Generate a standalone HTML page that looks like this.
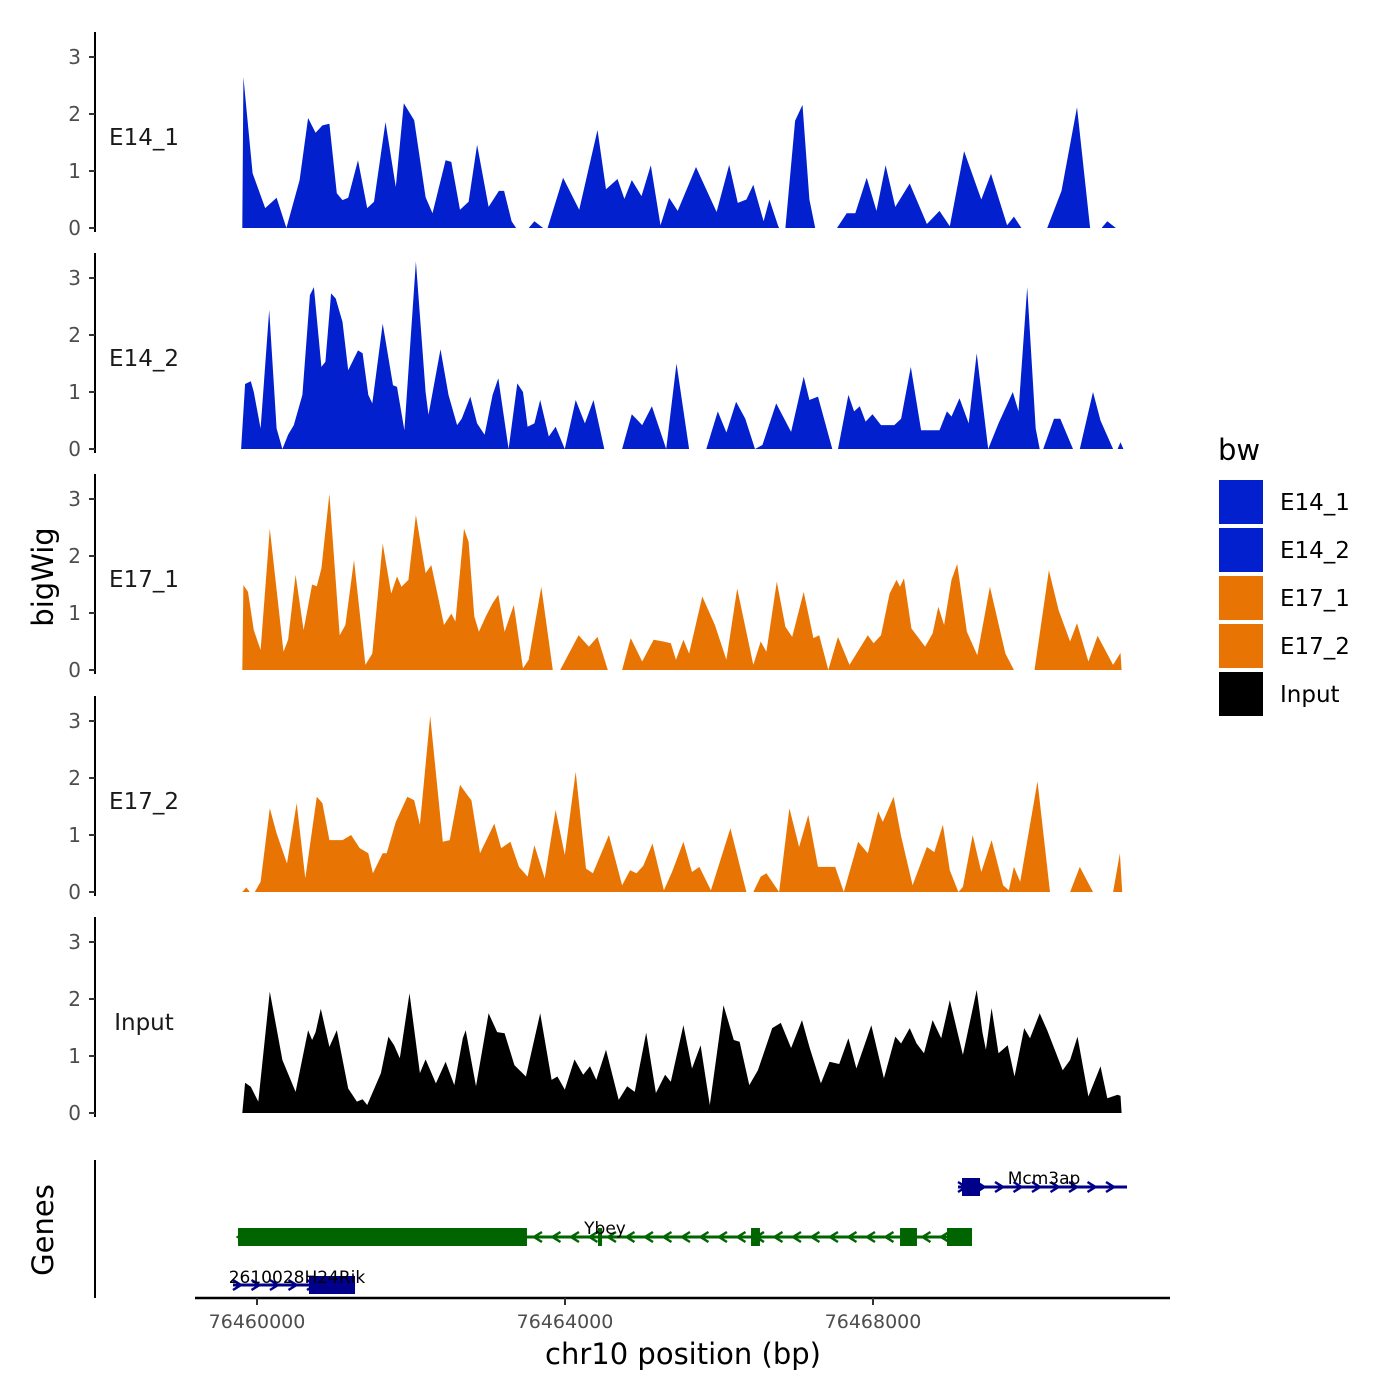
<!DOCTYPE html>
<html><head><meta charset="utf-8"><style>
html,body{margin:0;padding:0;background:#fff;}
svg{display:block;font-family:"DejaVu Sans","Liberation Sans",sans-serif;}
</style></head><body>
<svg id="chart" width="1400" height="1400" viewBox="0 0 1400 1400" xmlns="http://www.w3.org/2000/svg">
<rect x="0" y="0" width="1400" height="1400" fill="#fff"/>
<g id="panels"></g>
<g id="genes"></g>
<g id="xaxis"></g>
<text x="0" y="0" transform="translate(53,577) rotate(-90)" text-anchor="middle" font-size="29" fill="#000">bigWig</text>
<text x="0" y="0" transform="translate(53,1230) rotate(-90)" text-anchor="middle" font-size="29" fill="#000">Genes</text>
<text x="683" y="1364" text-anchor="middle" font-size="29" fill="#000">chr10 position (bp)</text>
<g>
<text x="1218" y="460" font-size="29" fill="#000">bw</text>
<g id="legend-entries"></g>
</g>
</svg>
<script>
// positions are bp relative to chr10:76,460,000
const regionStart = 76460000;
const xTicks = [0, 4000, 8000];
const xTickLabels = ["76460000", "76464000", "76468000"];
const yTicks = [0, 1, 2, 3];
const sampleNames = ["E14_1", "E14_2", "E17_1", "E17_2", "Input"];
const sampleColors = ["#0320CF", "#0320CF", "#E87503", "#E87503", "#000000"];

const e14_1_pos = [-191,-176,-57,106,255,382,553,664,761,850,940,1036,1111,1185,1312,1431,1520,1669,1803,1907,2041,2190,2279,2450,2524,2636,2748,2859,3008,3142,3209,3306,3365,3529,3603,3715,3774,3975,4184,4422,4533,4682,4771,4868,4994,5114,5240,5352,5463,5701,5969,6133,6244,6356,6445,6579,6654,6765,6780,6862,6988,7085,7174,7249,7532,7658,7770,7918,8045,8164,8290,8476,8700,8863,8997,9183,9332,9406,9533,9741,9830,9927,10262,10448,10649,10820,10969,11043,11155];
const e14_1_val = [0,2.65,0.96,0.35,0.53,0,0.84,1.93,1.67,1.8,1.83,0.61,0.49,0.53,1.19,0.35,0.46,1.86,0.72,2.19,1.89,0.54,0.26,1.19,1.16,0.32,0.46,1.46,0.37,0.65,0.65,0.12,0,0,0.12,0,0,0.88,0.32,1.72,0.68,0.86,0.51,0.84,0.56,1.1,0.05,0.53,0.3,1.07,0.28,1.11,0.44,0.5,0.76,0.12,0.5,0.05,0,0,1.88,2.16,0.5,0,0,0.26,0.26,0.88,0.3,1.1,0.37,0.78,0.07,0.3,0.03,1.35,0.78,0.5,0.95,0.05,0.2,0,0,0.65,2.12,0,0,0.12,0];

const e14_2_pos = [-206,-154,-80,-42,47,158,255,330,404,478,590,687,739,836,888,962,1022,1111,1185,1312,1371,1446,1498,1632,1766,1818,1914,2063,2190,2227,2383,2487,2599,2658,2770,2859,2956,3060,3134,3268,3380,3454,3514,3603,3678,3789,3878,3998,4139,4258,4370,4511,4742,4868,5002,5128,5314,5448,5612,5835,5984,6096,6222,6341,6468,6564,6743,6936,7100,7174,7286,7472,7546,7680,7755,7829,7904,7993,8104,8276,8365,8491,8625,8863,8960,9020,9124,9243,9347,9496,9630,9816,9890,10002,10113,10165,10210,10351,10433,10597,10686,10857,10954,11118,11177,11214,11252];
const e14_2_val = [0,1.14,1.19,1.0,0.36,2.44,0.36,0,0.25,0.42,0.95,2.7,2.84,1.44,1.53,2.73,2.64,2.23,1.38,1.73,1.68,0.95,0.8,2.2,1.12,1.09,0.33,3.29,1.0,0.6,1.75,0.95,0.42,0.53,0.92,0.45,0.25,0.95,1.24,0,1.15,1.0,0.39,0.45,0.86,0.22,0.39,0,0.86,0.45,0.86,0,0,0.61,0.42,0.75,0,1.5,0,0,0.66,0.29,0.83,0.53,0,0.07,0.8,0.3,1.27,0.86,0.92,0,0,0.95,0.66,0.75,0.48,0.61,0.42,0.42,0.53,1.44,0.33,0.33,0.66,0.57,0.89,0.45,1.68,0,0.45,1.0,0.66,2.84,0.36,0,0,0.53,0.53,0,0,1.0,0.5,0,0,0.12,0];

const e17_1_pos = [-191,-176,-117,-42,47,166,344,404,501,605,716,776,836,940,1074,1148,1260,1408,1498,1632,1743,1818,1877,1966,2063,2190,2264,2338,2428,2524,2576,2688,2748,2822,2882,2971,3060,3134,3216,3335,3454,3529,3692,3841,3938,4050,4176,4310,4422,4556,4742,4853,5002,5151,5277,5374,5441,5538,5612,5783,5947,6096,6237,6445,6542,6616,6750,6862,6951,7100,7226,7301,7420,7546,7695,7933,8008,8104,8216,8305,8350,8402,8499,8677,8774,8848,8923,9020,9094,9220,9354,9518,9719,9830,10098,10284,10411,10560,10649,10798,10917,11118,11214,11229];
const e17_1_val = [0,1.49,1.37,0.7,0.35,2.48,0.32,0.53,1.67,0.7,1.5,1.47,1.78,3.09,0.61,0.79,1.93,0.09,0.29,2.22,1.34,1.64,1.46,1.58,2.72,1.7,1.84,1.37,0.79,0.99,0.85,2.48,2.25,0.94,0.67,0.94,1.17,1.32,0.67,1.14,0.03,0.18,1.46,0,0,0.29,0.61,0.41,0.58,0,0,0.56,0.15,0.53,0.5,0.47,0.18,0.53,0.29,1.29,0.79,0.18,1.43,0.09,0.5,0.32,1.55,0.76,0.58,1.37,0.56,0.61,0,0.58,0.09,0.61,0.47,0.61,1.34,1.58,1.46,1.61,0.73,0.41,0.64,1.11,0.79,1.58,1.86,0.67,0.26,1.46,0.29,0,0,1.75,1.05,0.5,0.82,0.15,0.6,0.09,0.3,0];

const e17_2_pos = [-191,-139,-94,-28,47,166,255,389,516,627,776,850,940,1111,1222,1334,1446,1505,1632,1684,1803,1952,2041,2115,2249,2413,2502,2636,2748,2785,2896,3082,3172,3291,3402,3514,3603,3737,3878,3998,4139,4273,4362,4570,4742,4846,4928,5017,5136,5285,5389,5538,5649,5746,5895,6148,6356,6445,6542,6616,6780,6914,7040,7160,7286,7509,7621,7807,7933,8067,8127,8268,8365,8514,8700,8796,8908,8997,9109,9168,9295,9406,9540,9689,9764,9830,9912,10039,10136,10299,10560,10686,10857,11118,11207,11237];
const e17_2_val = [0,0.08,0,0,0.18,1.47,1.03,0.5,1.56,0.24,1.67,1.56,0.91,0.91,1.0,0.77,0.68,0.33,0.68,0.68,1.23,1.67,1.61,1.18,3.09,0.88,0.91,1.88,1.67,1.61,0.68,1.2,0.77,0.88,0.44,0.27,0.82,0.24,1.44,0.65,2.11,0.41,0.33,1.0,0.12,0.38,0.33,0.46,0.85,0.03,0.35,0.88,0.35,0.44,0.03,1.12,0,0,0.27,0.33,0,1.47,0.79,1.35,0.44,0.44,0,0.88,0.68,1.41,1.23,1.67,0.98,0.12,0.79,0.7,1.18,0.38,0,0.09,1.0,0.35,0.91,0.12,0.03,0.44,0.18,1.18,1.94,0,0,0.44,0,0,0.68,0];

const input_pos = [-191,-154,-80,17,166,330,501,664,716,761,828,940,1036,1185,1297,1371,1431,1609,1706,1780,1855,1981,2115,2190,2324,2450,2562,2673,2710,2844,3008,3120,3216,3343,3492,3678,3826,3901,3998,4124,4236,4325,4407,4533,4697,4808,4905,5054,5180,5300,5374,5538,5649,5761,5880,6058,6192,6267,6393,6505,6691,6802,6936,7078,7174,7323,7435,7561,7680,7784,7978,8142,8290,8365,8476,8566,8662,8774,8886,8997,9168,9347,9421,9466,9540,9630,9749,9838,9964,10039,10165,10262,10463,10560,10656,10798,10954,11043,11177,11214,11229];
const input_val = [0,0.53,0.46,0.2,2.13,0.93,0.37,1.45,1.28,1.42,1.83,1.16,1.45,0.43,0.2,0.24,0.14,0.7,1.34,1.19,0.96,2.1,0.7,0.94,0.52,0.9,0.49,1.31,1.45,0.47,1.75,1.42,1.4,0.84,0.64,1.75,0.58,0.64,0.41,0.94,0.67,0.82,0.58,1.11,0.23,0.47,0.37,1.41,0.35,0.67,0.55,1.54,0.78,1.19,0.14,1.89,1.28,1.25,0.49,0.75,1.49,1.58,1.14,1.63,1.16,0.52,0.9,0.86,1.31,0.78,1.54,0.61,1.34,1.22,1.49,1.22,1.05,1.63,1.31,1.98,1.02,2.16,1.42,1.11,1.84,1.05,1.19,0.64,1.49,1.31,1.75,1.45,0.75,0.93,1.34,0.29,0.82,0.26,0.32,0.3,0];

// genes: [start, end] relative bp
const geneNames = ["Mcm3ap", "Ybey", "2610028H24Rik"];
const geneStrand = ["+", "-", "+"];
const mcm3apSpan = [9104, 11299];
const mcm3apExons = [[9156, 9390]];
const ybeySpan = [-247, 9286];
const ybeyExons = [[-247, 3506], [4429, 4481], [6416, 6532], [8351, 8571], [8961, 9286]];
const rikSpan = [-312, 1273];
const rikExons = [[675, 1273]];

const NS = "http://www.w3.org/2000/svg";
function xScale(bp) { return 257 + bp * 0.077; }
const panelBase = [228, 449, 670, 892, 1113];
function yScale(panel, v) { return panelBase[panel] - v * 57; }
function mk(tag, attrs, parent) {
  const el = document.createElementNS(NS, tag);
  for (const k in attrs) el.setAttribute(k, attrs[k]);
  parent.appendChild(el);
  return el;
}

const panelsG = document.getElementById("panels");
const allPos = [e14_1_pos, e14_2_pos, e17_1_pos, e17_2_pos, input_pos];
const allVal = [e14_1_val, e14_2_val, e17_1_val, e17_2_val, input_val];
sampleNames.forEach((name, p) => {
  const g = mk("g", {}, panelsG);
  
  
  const base = panelBase[p];
  const axis = mk("line", { x1: 95, x2: 95, y1: base - 196, y2: base + 4, stroke: "#000", "stroke-width": 2 }, g);
  
  
  yTicks.forEach(t => {
    const y = yScale(p, t);
    const tk = mk("line", { x1: 89, x2: 95, y1: y, y2: y, stroke: "#333", "stroke-width": 2 }, g);
    
    
    const tl = mk("text", { x: 81, y: y + 7, "text-anchor": "end", "font-size": 20, fill: "#4d4d4d" }, g);
    
    
    tl.textContent = String(t);
  });
  const lab = mk("text", { x: 144, y: yScale(p, 1.6) + 8, "text-anchor": "middle", "font-size": 23, fill: "#1a1a1a" }, g);
  
  
  lab.textContent = name;
  const pos = allPos[p], val = allVal[p];
  const n = Math.min(pos.length, val.length);
  let d = "M" + xScale(pos[0]).toFixed(1) + "," + base;
  for (let i = 0; i < n; i++) d += "L" + xScale(pos[i]).toFixed(1) + "," + yScale(p, val[i]).toFixed(1);
  d += "L" + xScale(pos[n - 1]).toFixed(1) + "," + base + "Z";
  const area = mk("path", { d: d, fill: sampleColors[p], stroke: "none" }, g);
  
  
});

// genes track
const genesG = document.getElementById("genes");
const gAxis = mk("line", { x1: 95, x2: 95, y1: 1160, y2: 1298, stroke: "#000", "stroke-width": 2 }, genesG);


function drawGene(name, span, exons, strand, yc, color, labelX, labelY) {
  const g = mk("g", {}, genesG);
  
  
  const x1 = xScale(span[0]), x2 = xScale(span[1]);
  mk("line", { x1: x1, x2: x2, y1: yc, y2: yc, stroke: color, "stroke-width": 3 }, g);
  const step = 18.5;
  for (let x = x1 + 4; x < x2; x += step) {
    const dx = strand === "+" ? 4 : -4;
    mk("polyline", { points: (x - dx) + "," + (yc - 5) + " " + (x + dx) + "," + yc + " " + (x - dx) + "," + (yc + 5), fill: "none", stroke: color, "stroke-width": 2.5 }, g);
  }
  exons.forEach(e => {
    const r = mk("rect", { x: xScale(e[0]), y: yc - 9, width: Math.max(3, xScale(e[1]) - xScale(e[0])), height: 18, fill: color }, g);
    
    
  });
  const t = mk("text", { x: labelX, y: labelY, "text-anchor": "middle", "font-size": 17, fill: "#000" }, g);
  
  
  t.textContent = name;
}
drawGene(geneNames[0], mcm3apSpan, mcm3apExons, geneStrand[0], 1187, "#00008B", 1044, 1184);
drawGene(geneNames[1], ybeySpan, ybeyExons, geneStrand[1], 1237, "#006400", 605, 1234);
drawGene(geneNames[2], rikSpan, rikExons, geneStrand[2], 1285, "#00008B", 297, 1283);

// x axis
const xg = document.getElementById("xaxis");
const xl = mk("line", { x1: 195, x2: 1170, y1: 1298, y2: 1298, stroke: "#000", "stroke-width": 2.5 }, xg);


xTicks.forEach((t, i) => {
  const x = xScale(t);
  const tk = mk("line", { x1: x, x2: x, y1: 1298, y2: 1305, stroke: "#333", "stroke-width": 2 }, xg);
  
  
  const tl = mk("text", { x: x, y: 1328, "text-anchor": "middle", "font-size": 19, fill: "#4d4d4d" }, xg);
  
  
  tl.textContent = xTickLabels[i];
});

// legend
const lg = document.getElementById("legend-entries");
sampleNames.forEach((name, i) => {
  const y = 480 + i * 48;
  const r = mk("rect", { x: 1219, y: y, width: 44, height: 44, fill: sampleColors[i] }, lg);
  
  
  const t = mk("text", { x: 1280, y: y + 30, "font-size": 23, fill: "#000" }, lg);
  
  
  t.textContent = name;
});
</script>
</body></html>
